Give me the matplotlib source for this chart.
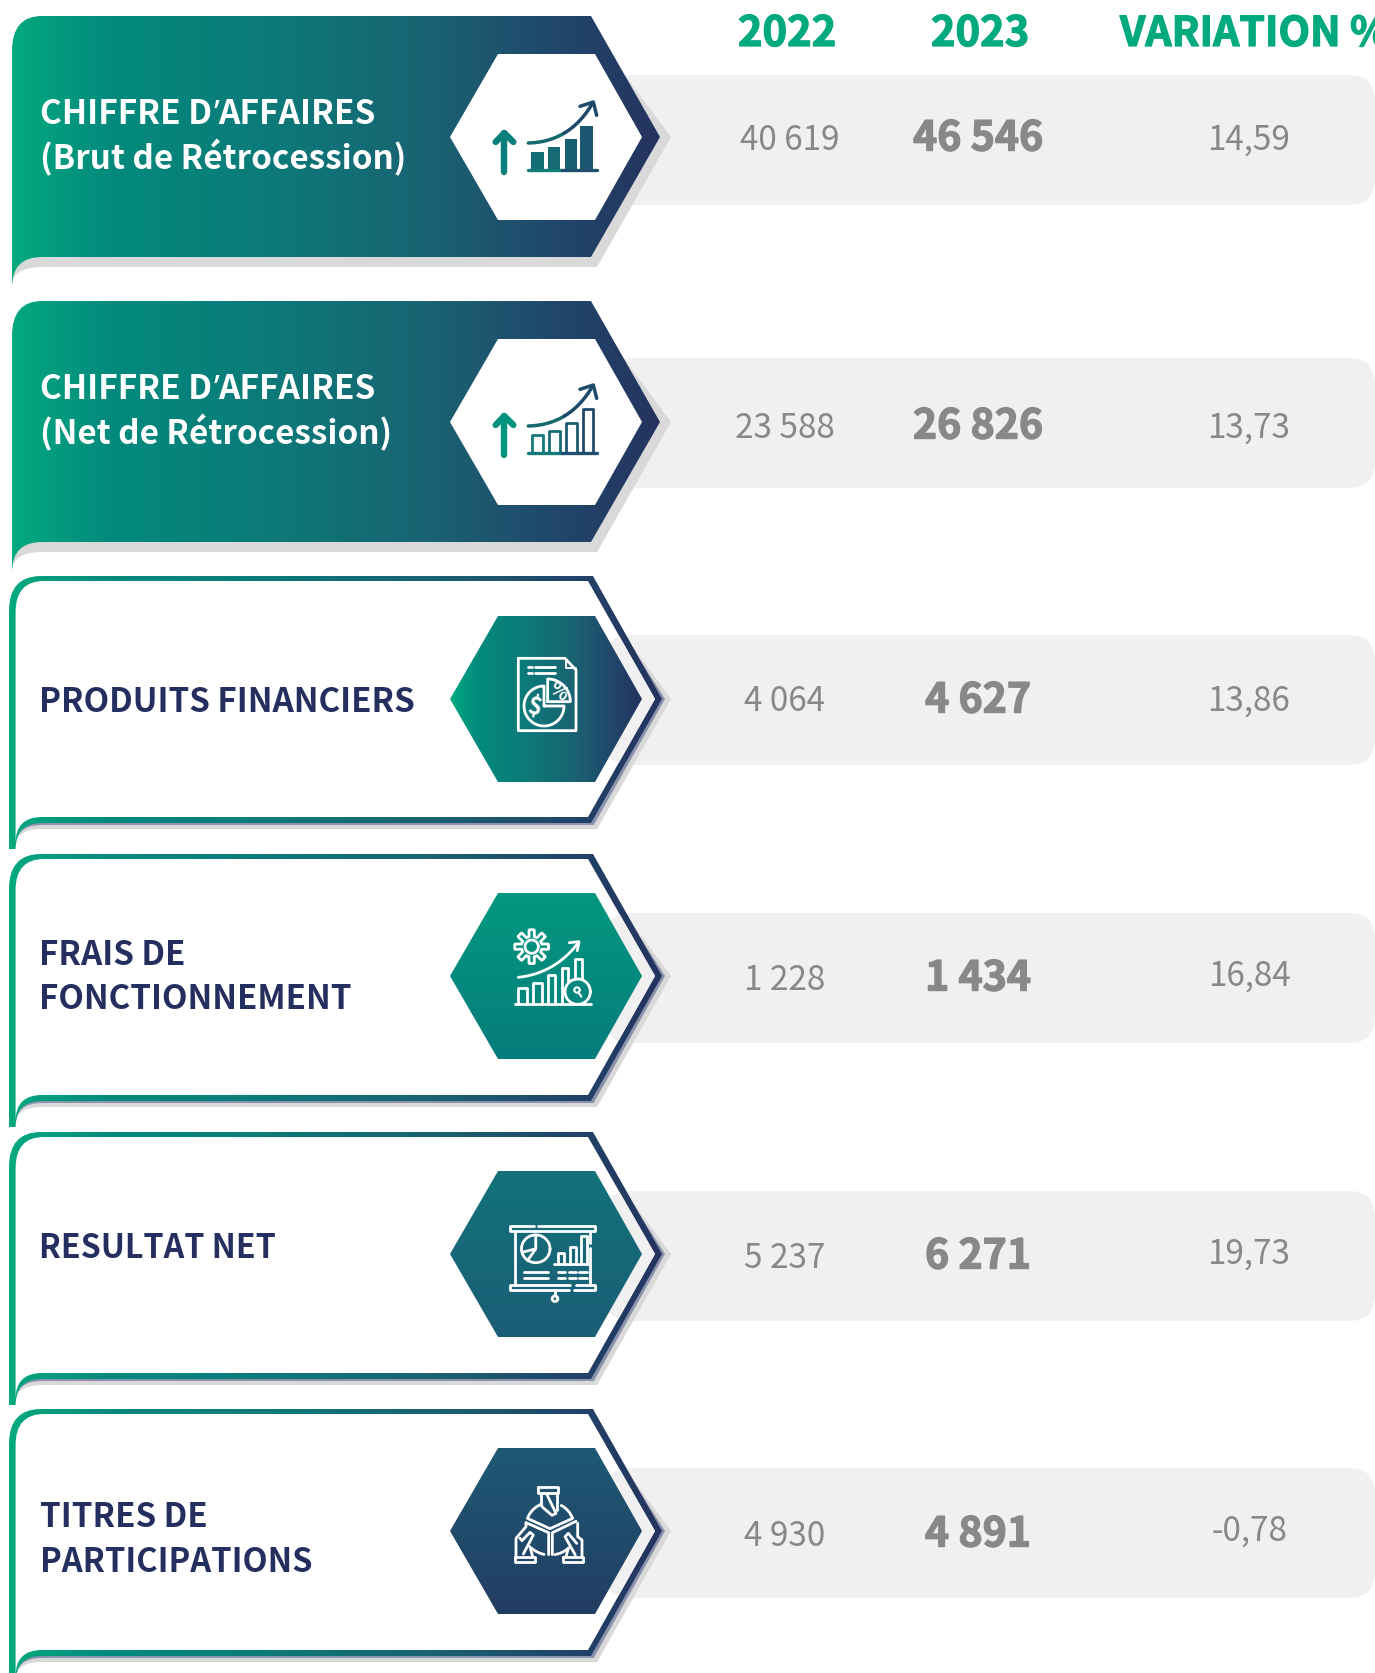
import numpy as np
import matplotlib
matplotlib.use('Agg')
import matplotlib.pyplot as plt
import matplotlib.patheffects as pe
from matplotlib.colors import LinearSegmentedColormap
from matplotlib.path import Path
from matplotlib.patches import PathPatch, Rectangle, FancyBboxPatch

# Data
columns = ['2022', '2023', 'VARIATION %']
labels = [
    ['CHIFFRE D’AFFAIRES', '(Brut de Rétrocession)'],
    ['CHIFFRE D’AFFAIRES', '(Net de Rétrocession)'],
    ['PRODUITS FINANCIERS'],
    ['FRAIS DE', 'FONCTIONNEMENT'],
    ['RESULTAT NET'],
    ['TITRES DE', 'PARTICIPATIONS'],
]
values_2022 = ['40 619', '23 588', '4 064', '1 228', '5 237', '4 930']
values_2023 = ['46 546', '26 826', '4 627', '1 434', '6 271', '4 891']
variation = ['14,59', '13,73', '13,86', '16,84', '19,73', '-0,78']

# Layout, in pixels of the 1375x1673 picture
W, H = 1375, 1673
banner_top = [16, 301, 576, 854, 1132, 1409]
banner_h = 241
row_top = [75, 358, 635, 913, 1191, 1468]
row_h = 130
hex_mid = [137, 422, 699, 976, 1254, 1531]
y_2022 = [138, 426, 699, 978, 1256, 1534]
y_2023 = [136, 424, 698, 976, 1254, 1532]
y_var = [138, 426, 699, 974, 1252, 1529]
x_2022 = [790, 785, 785, 785, 785, 785]
label_x = [40.5, 40.5, 39.5, 39.5, 39.5, 40.5]
label_y = [[112, 157], [387, 432], [700], [953, 997], [1246], [1515, 1560]]
label_size = [[24.1, 23.9], [24.1, 23.9], [23.9], [23.9, 23.9], [23.2], [23.9, 23.5]]

GREEN = '#03a97f'
NAVY = '#252f5f'
GREY = '#888888'
ROW = '#f0f0f0'
SHADOW = '#d9d9d9'
banner_cols = [(0, '#03a97f'), (0.15, '#038a7d'), (0.4, '#0c7a79'), (0.65, '#1a6272'),
               (0.85, '#21466a'), (1, '#25335f')]
FONT = ['Noto Sans CJK SC', 'DejaVu Sans']

fig = plt.figure(figsize=(W / 100, H / 100), dpi=100)
ax = fig.add_axes([0, 0, 1, 1])
ax.axis('off')
ax.set_xlim(0, W)
ax.set_ylim(H, 0)


def grad(path, colors, box, z, vertical=False):
    cmap = LinearSegmentedColormap.from_list('g', colors)
    arr = np.linspace(0, 1, 256)
    arr = arr.reshape(-1, 1) if vertical else arr.reshape(1, -1)
    im = ax.imshow(arr, cmap=cmap, extent=(box[0], box[1], box[3], box[2]),
                   origin='upper', aspect='auto', zorder=z, interpolation='bilinear')
    patch = PathPatch(path, transform=ax.transData, fc='none', ec='none')
    ax.add_patch(patch)
    im.set_clip_path(patch)


def banner_path(t, b, mid):
    v = [(12, t + 35), (12, t), (42, t), (591, t), (660, mid),
         (591, b), (42, b), (12, b), (12, b + 30), (12, t + 35)]
    c = [Path.MOVETO, Path.CURVE3, Path.CURVE3, Path.LINETO, Path.LINETO,
         Path.LINETO, Path.LINETO, Path.CURVE3, Path.CURVE3, Path.CLOSEPOLY]
    return Path(v, c)


def outer_path(t, b, mid):
    v = [(9, t + 35), (9, t), (41, t), (593, t), (662, mid), (591, b + 6), (42, b + 6),
         (15.6, b + 6), (15.6, b + 32), (9, b + 32), (9, t + 35)]
    c = [Path.MOVETO, Path.CURVE3, Path.CURVE3, Path.LINETO, Path.LINETO, Path.LINETO,
         Path.LINETO, Path.CURVE3, Path.CURVE3, Path.LINETO, Path.CLOSEPOLY]
    return Path(v, c)


def inner_path(t, b, mid):
    v = [(15.6, t + 36), (15.6, t + 5), (44, t + 5), (588, t + 5), (655, mid),
         (588, b), (42, b), (15.6, b), (15.6, b + 26), (15.6, t + 36)]
    c = [Path.MOVETO, Path.CURVE3, Path.CURVE3, Path.LINETO, Path.LINETO,
         Path.LINETO, Path.LINETO, Path.CURVE3, Path.CURVE3, Path.CLOSEPOLY]
    return Path(v, c)


def shadow_path(t, b, mid, rt, off, low, left=12):
    top_x = 591 + (rt - t) * (69 / (mid - t))
    v = [(top_x, rt), (660 + off, mid), (591 + off * 0.55, b + low), (42, b + low),
         (left, b + low), (left, b + 30), (left, b), (591, b), (top_x, rt)]
    c = [Path.MOVETO, Path.LINETO, Path.LINETO, Path.LINETO, Path.CURVE3, Path.CURVE3,
         Path.LINETO, Path.LINETO, Path.CLOSEPOLY]
    return Path(v, c)


def hex_path(mid):
    pts = [(450, mid), (498, mid - 83), (595, mid - 83), (642, mid), (595, mid + 83),
           (498, mid + 83), (450, mid)]
    return Path(pts, [Path.MOVETO] + [Path.LINETO] * 5 + [Path.CLOSEPOLY])


def row_shape(rt):
    return FancyBboxPatch((605, rt), W - 605, row_h, boxstyle='round,pad=0,rounding_size=26',
                          fc=ROW, ec='none')


def lines(x0, y0, pts, color='white', lw=2.0, z=20, closed=False, sx=1, sy=1):
    pts = np.array(pts, dtype=float)
    if closed:
        pts = np.vstack([pts, pts[0]])
    ax.plot(x0 + pts[:, 0] * sx / 3, y0 + pts[:, 1] * sy / 3, color=color, lw=lw, zorder=z,
            solid_capstyle='round', solid_joinstyle='round')


def curve(p0, c, p1, n=30):
    t = np.linspace(0, 1, n)[:, None]
    return (1 - t) ** 2 * np.array(p0) + 2 * t * (1 - t) * np.array(c) + t ** 2 * np.array(p1)


def arc(cx, cy, r, a0, a1, n=60):
    a = np.radians(np.linspace(a0, a1, n))
    return np.column_stack([cx + r * np.cos(a), cy + r * np.sin(a)])


def icon_growth(filled, mid):
    x0, y0 = 470, mid - (60 if filled else 62)
    teal = '#03937f' if not filled else '#0a7f7c'
    lines(x0, y0, [(103, 285), (103, 168)], teal, 4.6)
    lines(x0, y0, [(77, 195), (103, 168), (130, 195)], teal, 4.6)
    bars = [(187, 218, 225), (238, 270, 212), (288, 320, 188), (338, 370, 147)]
    cols = ['#157a7a', '#1a6a76', '#1e5a70', '#224a6a']
    if filled:
        bars = [(183, 222, 225), (234, 270, 210), (285, 321, 186), (330, 369, 147)]
        cols = ['#126f76', '#156a74', '#185f72', '#1c5570']
    for (a, b, top), c in zip(bars, cols):
        if filled:
            ax.add_patch(Rectangle((x0 + a / 3, y0 + top / 3), (b - a) / 3, (278 - top) / 3,
                                   fc=c, ec='none', zorder=20))
        else:
            lines(x0, y0, [(a, 278), (a, top), (b, top), (b, 278)], c, 2.0)
    lines(x0, y0, [(175, 278), (275, 278)], '#157a7a', 2.4)
    lines(x0, y0, [(275, 278), (380, 278)], '#1f4f6c', 2.4)
    cv = curve((175, 198), (300, 195), (368, 78))
    lines(x0, y0, cv[:15], '#16686f', 2.5)
    lines(x0, y0, cv[14:], '#1d4a6a', 2.5)
    lines(x0, y0, [(330, 88), (370, 75), (380, 115)], '#1d4a6a', 2.5)


def icon_report(mid):
    x0, y0 = 500, mid - 59
    lines(x0, y0, [(55, 55), (195, 55), (228, 90), (228, 272), (55, 272)], closed=True)
    lines(x0, y0, [(197, 57), (197, 85), (228, 85)], lw=1.4)
    for y in (80, 100):
        lines(x0, y0, [(85, y), (95, y)])
        lines(x0, y0, [(105, y), (165, y)])
    lines(x0, y0, np.vstack([[(132, 198)], arc(132, 198, 60, -90, -360), [(132, 198)]]))
    lines(x0, y0, np.vstack([[(143, 185)], arc(143, 185, 68, -90, 0), [(143, 185)]]))
    ax.text(x0 + 176 / 3, y0 + 156 / 3, '%', color='white', fontsize=14, fontweight='bold',
            family=FONT, ha='center', va='center', rotation=-35, zorder=20)
    ax.text(x0 + 105 / 3, y0 + 203 / 3, '$', color='white', fontsize=17, fontweight='bold',
            family=FONT, ha='center', va='center', rotation=-12, zorder=20)


def icon_gear(mid):
    x0, y0 = 500, mid - 56
    a = np.radians(np.linspace(0, 360, 321))
    r = 41 + 10 * np.clip(3 * np.cos(8 * a), -1, 1)
    lines(x0, y0, np.column_stack([95 + r * np.cos(a), 80 + r * np.sin(a)]))
    lines(x0, y0, arc(95, 80, 20, 0, 360))
    lines(x0, y0, curve((55, 172), (165, 160), (235, 68)))
    lines(x0, y0, [(208, 68), (237, 65), (232, 92)])
    lines(x0, y0, [(45, 252), (273, 252)])
    lines(x0, y0, [(55, 252), (55, 205), (80, 205), (80, 252)])
    lines(x0, y0, [(100, 252), (100, 190), (125, 190), (125, 252)])
    lines(x0, y0, [(145, 252), (145, 165), (165, 165), (165, 252)])
    lines(x0, y0, [(185, 252), (185, 143), (205, 143), (205, 185)])
    lines(x0, y0, [(225, 177), (225, 118), (245, 118), (245, 177)])
    lines(x0, y0, arc(233, 215, 38, 0, 360))
    lines(x0, y0, arc(231, 210, 8, 0, 360), lw=1.5)
    lines(x0, y0, [(236, 218), (244, 230)], lw=1.5)


def icon_screen(mid):
    x0, y0 = 500, mid - 44
    s = {'sx': 1.07, 'sy': 1.04}
    x0 = x0 - 1
    lines(x0, y0, [(97, 45), (30, 45), (30, 62), (270, 62), (270, 45), (110, 45)], **s)
    lines(x0, y0, [(200, 215), (30, 215), (30, 232), (195, 232)], **s)
    lines(x0, y0, [(210, 232), (270, 232), (270, 215), (215, 215)], **s)
    lines(x0, y0, [(45, 62), (45, 215)], **s)
    lines(x0, y0, [(255, 62), (255, 95)], **s)
    lines(x0, y0, [(255, 110), (255, 215)], **s)
    lines(x0, y0, arc(103, 112, 40, 0, 360), **s)
    lines(x0, y0, [(103, 72), (103, 112), (65, 122)], **s)
    lines(x0, y0, [(103, 112), (80, 146)], **s)
    lines(x0, y0, [(155, 155), (250, 155)], **s)
    for a, b, top in [(165, 182, 125), (198, 215, 108), (230, 247, 75)]:
        lines(x0, y0, [(a, 155), (a, top), (b, top), (b, 155)], **s)
    for y in (178, 195):
        lines(x0, y0, [(70, y), (137, y)], **s)
        for a, b in [(165, 185), (195, 215), (225, 247)]:
            lines(x0, y0, [(a, y), (b, y)], **s)
    lines(x0, y0, [(157, 232), (157, 246)], **s)
    lines(x0, y0, arc(157, 256, 8, 0, 360), **s)


def icon_hands(mid):
    x0, y0 = 500, mid - 51
    lines(x0, y0, [(113, 22), (175, 22), (175, 38), (113, 38)], closed=True)
    lines(x0, y0, [(122, 38), (122, 75)])
    lines(x0, y0, [(170, 38), (170, 90)])
    lines(x0, y0, [(140, 42), (168, 100), (156, 106), (128, 82), (122, 72)])
    lines(x0, y0, arc(150, 140, 72, -113, -157))
    lines(x0, y0, arc(150, 140, 72, -62, -22))
    lines(x0, y0, [(82, 115), (150, 146), (218, 115)])
    lines(x0, y0, [(78, 128), (146, 158), (146, 224)])
    lines(x0, y0, [(228, 124), (157, 158), (157, 224)])
    lines(x0, y0, arc(150, 140, 85, 48, 80))
    lines(x0, y0, arc(150, 140, 85, 102, 130))
    lines(x0, y0, [(78, 128), (78, 140), (48, 175), (48, 230)])
    lines(x0, y0, [(233, 130), (233, 170), (246, 180), (246, 230)])
    lines(x0, y0, [(45, 230), (105, 230), (105, 245), (45, 245)], closed=True)
    lines(x0, y0, [(190, 230), (248, 230), (248, 245), (190, 245)], closed=True)
    lines(x0, y0, [(70, 222), (100, 165), (90, 157), (66, 182), (60, 175)])
    lines(x0, y0, [(90, 200), (98, 230)])
    lines(x0, y0, [(226, 225), (195, 170), (205, 160), (230, 190)])
    lines(x0, y0, [(205, 205), (198, 230)])


def draw_label(x, y, line, color, size):
    # the CJK family has a full-width apostrophe, so that one sign comes from Noto Sans
    style = dict(color=color, fontsize=size, fontweight='bold', ha='left', va='baseline', zorder=10)
    parts = line.split('’')
    renderer = fig.canvas.get_renderer()
    for k, part in enumerate(parts):
        t = ax.text(x, y, part, family=FONT, **style)
        x = t.get_window_extent(renderer).x1 + 0.5
        if k < len(parts) - 1:
            a = ax.text(x, y, '’', family='Noto Sans', **style)
            x = a.get_window_extent(renderer).x1 - 1


hex_fills = [
    (['#ffffff', '#ffffff'], False),
    (['#ffffff', '#ffffff'], False),
    (banner_cols, False),
    (['#03987f', '#067c7c'], True),
    (['#12727a', '#1b5e76'], True),
    (['#1e5a74', '#233d62'], True),
]
heavy = [pe.withStroke(linewidth=1.0, foreground=GREY)]
heavy_green = [pe.withStroke(linewidth=0.9, foreground=GREEN)]

for i in range(6):
    t = banner_top[i]
    b = t + banner_h
    mid = hex_mid[i]
    rt = row_top[i]
    ax.add_patch(row_shape(rt)).set_zorder(1)
    if i < 2:
        ax.add_patch(PathPatch(shadow_path(t, b, mid, rt, 11, 10), fc=SHADOW, ec='none', zorder=2))
        grad(banner_path(t, b, mid), banner_cols, (12, 660, t, b + 40), 3)
    else:
        ax.add_patch(PathPatch(shadow_path(t, b, mid, rt, 11, 12, left=15.6), fc=SHADOW, ec='none', zorder=2))
        ax.add_patch(PathPatch(shadow_path(t, b, mid, rt, 5, 8, left=15.6), fc='#8a92ac', ec='none', zorder=2.5))
        grad(outer_path(t, b, mid), banner_cols, (9, 662, t, b + 40), 3)
        inner = inner_path(t, b, mid)
        ax.add_patch(PathPatch(inner, fc='white', ec='none', zorder=4))
        overlay = row_shape(rt)
        overlay.set_zorder(5)
        ax.add_patch(overlay)
        clip = PathPatch(inner, transform=ax.transData, fc='none', ec='none')
        ax.add_patch(clip)
        overlay.set_clip_path(clip)
    colors, vert = hex_fills[i]
    grad(hex_path(mid), colors, (450, 642, mid - 83, mid + 83), 6, vertical=vert)
    label_color = 'white' if i < 2 else NAVY
    for line, y, size in zip(labels[i], label_y[i], label_size[i]):
        draw_label(label_x[i], y + 12, line, label_color, size)
    ax.text(x_2022[i], y_2022[i] + 12, values_2022[i], color=GREY, fontsize=24, fontweight='light',
            family=FONT, ha='center', va='baseline', zorder=10)
    ax.text(978, y_2023[i] + 14.5, values_2023[i], color=GREY, fontsize=29.5, fontweight='black',
            family=FONT, ha='center', va='baseline', zorder=10, path_effects=heavy)
    ax.text(1249, y_var[i] + 12, variation[i], color=GREY, fontsize=24, fontweight='light',
            family=FONT, ha='center', va='baseline', zorder=10)

icon_growth(True, hex_mid[0])
icon_growth(False, hex_mid[1])
icon_report(hex_mid[2])
icon_gear(hex_mid[3])
icon_screen(hex_mid[4])
icon_hands(hex_mid[5])

# Column headers
ax.text(787, 46, columns[0], color=GREEN, fontsize=30, fontweight='black', family=FONT,
        ha='center', va='baseline', path_effects=heavy_green)
ax.text(980, 46, columns[1], color=GREEN, fontsize=30, fontweight='black', family=FONT,
        ha='center', va='baseline', path_effects=heavy_green)
ax.text(1120, 46, columns[2], color=GREEN, fontsize=29.5, fontweight='black', family=FONT,
        ha='left', va='baseline', clip_on=True, path_effects=heavy_green)

ax.set_xlim(0, W)
ax.set_ylim(H, 0)
fig.savefig('out.png', dpi=100, facecolor='white')
